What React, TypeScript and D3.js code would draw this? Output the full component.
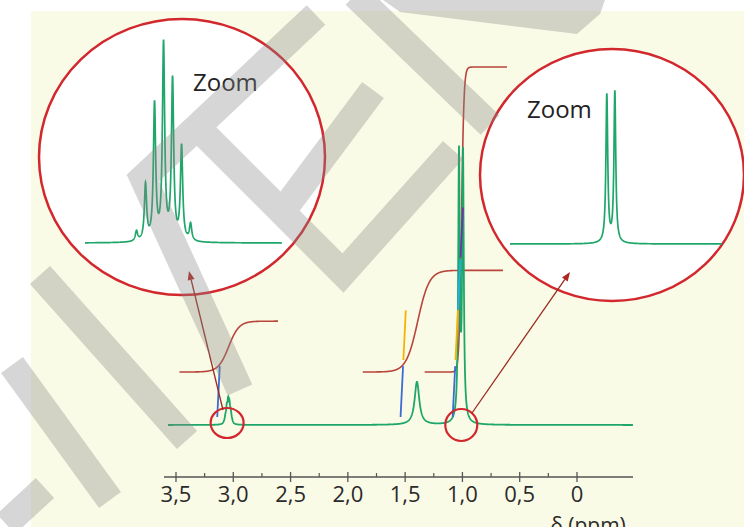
import React from "react";
import * as d3 from "d3";

const W = 744;
const H = 527;

// axis ticks (ppm)
const tickValues = [3.5, 3.0, 2.5, 2.0, 1.5, 1.0, 0.5, 0];
const tickLabels = ["3,5", "3,0", "2,5", "2,0", "1,5", "1,0", "0,5", "0"];
const minorTicks = [3.25, 2.75, 2.25, 1.75, 1.25, 0.75, 0.25];

// main spectrum: single lines (ppm, height, half width in ppm)
const linePpm = [1.03, 0.995, 1.397];
const lineHeight = [266, 268, 43];
const lineWidth = [0.008, 0.008, 0.0245];

// septet around 3.05 ppm (relative heights read from the zoom)
const septetHz = [-21, -14, -7, 0, 7, 14, 21];
const septetRel = [10, 56, 136, 196, 160, 94, 17];
const septetCenter = 3.045;
const septetMainScale = 0.1;
const septetMainWidth = 0.007;

// doublet around 1.0 ppm (zoom)
const doubletHz = [-3.5, 3.5];
const doubletRel = [148, 151];

// integrals: ppm span, midpoint, spread, value (H)
const integralStart = [3.47, 1.87, 1.33];
const integralEnd = [2.61, 0.646, 0.611];
const integralMid = [3.04, 1.39, 1.008];
const integralSpread = [0.045, 0.05, 0.0105];
const integralValue = [1, 2, 6];

// integral rulers
const rulerPpm = [3.14, 1.54, 1.085];
const rulerCount = [1, 2, 4];
const rulerFrom = [0, 1.12, 2.12, 3.14];
const rulerTo = [1, 2.1, 3.1, 4.12];
const rulerColors = ["#3b6cd4", "#f4b400", "#1eb0e8", "#6a35a8"];

const GREEN = "#1fa66a";
const RED = "#d2282d";
const BROWN = "#b8453b";

const xScale = d3.scaleLinear().domain([3.5, 0]).range([176, 577]);
const yMain = d3.scaleLinear().domain([0, 280]).range([425, 145]);
const yInt = d3.scaleLinear().domain([0, 6]).range([372, 67]);
const yRuler = d3.scaleLinear().domain([0, 6]).range([417, 112]);

const xLeftZoom = d3.scaleLinear().domain([-61, 92]).range([85, 282]);
const yLeftZoom = d3.scaleLinear().domain([0, 210]).range([243, 33]);
const xRightZoom = d3.scaleLinear().domain([-88, 97]).range([510, 722]);
const yRightZoom = d3.scaleLinear().domain([0, 155]).range([244, 89]);

const lor = (x: number, p: number, h: number, w: number) =>
  h / (1 + ((x - p) / w) ** 2);

const mainPoints: [number, number][] = d3.range(3.57, -0.49, -0.002).map((p) => {
  let v = 0;
  linePpm.forEach((c, i) => (v += lor(p, c, lineHeight[i], lineWidth[i])));
  septetHz.forEach((hz, i) => {
    v += lor(p, septetCenter - hz / 600, septetRel[i] * septetMainScale, septetMainWidth);
  });
  return [xScale(p), yMain(v)];
});

const leftZoomPoints: [number, number][] = d3.range(-61, 92, 0.1).map((hz) => {
  let v = 0;
  septetHz.forEach((c, i) => (v += lor(hz, c, septetRel[i], 1.05)));
  return [xLeftZoom(hz), yLeftZoom(v)];
});

const rightZoomPoints: [number, number][] = d3.range(-88, 97, 0.1).map((hz) => {
  let v = 0;
  doubletHz.forEach((c, i) => (v += lor(hz, c, doubletRel[i], 0.95)));
  return [xRightZoom(hz), yRightZoom(v)];
});

const integralPaths = integralStart.map((s, i) =>
  d3.range(s, integralEnd[i], -0.001).map((p) => {
    const f = 1 / (1 + Math.exp((p - integralMid[i]) / integralSpread[i]));
    return [xScale(p), yInt(integralValue[i] * f)] as [number, number];
  })
);

const line = d3.line();

// watermark strokes (decoration)
const watermark: [number, number][][] = [
  [[316, 15], [143, 178], [240, 390]],
  [[197, 127], [343, 273], [453, 150]],
  [[373, 90], [282, 212]],
  [[40, 275], [187, 440]],
  [[12, 365], [110, 500]],
  [[6, 524], [45, 488]],
  [[355, -5], [490, 125]],
];
const wedge: [number, number][] = [[383, 0], [605, 0], [600, 14], [577, 34], [400, 12]];

function Arrow({ x1, y1, x2, y2 }: { x1: number; y1: number; x2: number; y2: number }) {
  const a = Math.atan2(y2 - y1, x2 - x1);
  const L = 9;
  const Wd = 3.5;
  const bx = x2 - L * Math.cos(a);
  const by = y2 - L * Math.sin(a);
  const pts = [
    [x2, y2],
    [bx + Wd * Math.sin(a), by - Wd * Math.cos(a)],
    [bx - Wd * Math.sin(a), by + Wd * Math.cos(a)],
  ];
  return (
    <g>
      <line x1={x1} y1={y1} x2={bx} y2={by} stroke="#9a2b22" strokeWidth={1.3} />
      <polygon points={pts.map((p) => p.join(",")).join(" ")} fill="#b0261f" />
    </g>
  );
}

export default function App() {
  const font = "'Open Sans', 'Noto Sans', sans-serif";
  return (
    <svg
      width={W}
      height={H}
      style={{ position: "absolute", left: 0, top: 0, background: "#fff" }}
    >
      <rect x={31} y={11} width={W - 31} height={H - 11} fill="#fafbe6" />

      {/* zoom circles */}
      <ellipse cx={182} cy={157} rx={143} ry={138} fill="#fff" stroke={RED} strokeWidth={2.5} />
      <ellipse cx={612} cy={175} rx={132} ry={126} fill="#fff" stroke={RED} strokeWidth={2.5} />

      <path d={line(leftZoomPoints) ?? ""} fill="none" stroke={GREEN} strokeWidth={1.7} />
      <path d={line(rightZoomPoints) ?? ""} fill="none" stroke={GREEN} strokeWidth={1.7} />
      <text x={193} y={91} fontFamily={font} fontSize={24} fill="#222">Zoom</text>
      <text x={527} y={118} fontFamily={font} fontSize={24} fill="#222">Zoom</text>

      {/* integrals */}
      {integralPaths.map((pts, i) => (
        <path key={i} d={line(pts) ?? ""} fill="none" stroke={BROWN} strokeWidth={1.6} />
      ))}

      {/* main spectrum */}
      <path d={line(mainPoints) ?? ""} fill="none" stroke={GREEN} strokeWidth={1.8} />

      {/* rulers */}
      {rulerPpm.map((p, i) =>
        d3.range(rulerCount[i]).map((k) => (
          <line
            key={`${i}-${k}`}
            x1={xScale(p) + rulerFrom[k] * 2.5}
            y1={yRuler(rulerFrom[k])}
            x2={xScale(p) + rulerTo[k] * 2.5}
            y2={yRuler(rulerTo[k])}
            stroke={rulerColors[k]}
            strokeWidth={1.8}
          />
        ))
      )}

      {/* small circles + arrows */}
      <ellipse cx={xScale(septetCenter) - 1} cy={yMain(0) - 2} rx={16.5} ry={15} fill="none" stroke={RED} strokeWidth={2.2} />
      <ellipse cx={xScale(1.01)} cy={yMain(0)} rx={16} ry={16} fill="none" stroke={RED} strokeWidth={2.2} />
      <Arrow x1={223} y1={410} x2={189} y2={271} />
      <Arrow x1={472} y1={413} x2={570} y2={272} />

      {/* axis */}
      <g>
        <line x1={164} x2={633} y1={477} y2={477} stroke="#555" strokeWidth={1.5} />
        {tickValues.map((t, i) => (
          <g key={t}>
            <line x1={xScale(t)} x2={xScale(t)} y1={472} y2={482} stroke="#555" strokeWidth={1.3} />
            <text x={xScale(t)} y={502} textAnchor="middle" fontFamily={font} fontSize={22} fill="#2a2a2a">
              {tickLabels[i]}
            </text>
          </g>
        ))}
        {minorTicks.map((t) => (
          <line key={t} x1={xScale(t)} x2={xScale(t)} y1={473} y2={477} stroke="#555" strokeWidth={1.2} />
        ))}
        <text x={588} y={533} textAnchor="middle" fontFamily={font} fontSize={21} fill="#2a2a2a">
          δ (ppm)
        </text>
      </g>

      {/* watermark */}
      <g opacity={0.34}>
        {watermark.map((pts, i) => (
          <path key={i} d={line(pts) ?? ""} fill="none" stroke="#888" strokeWidth={27} strokeLinejoin="miter" />
        ))}
        <polygon points={wedge.map((p) => p.join(",")).join(" ")} fill="#888" />
      </g>
    </svg>
  );
}
